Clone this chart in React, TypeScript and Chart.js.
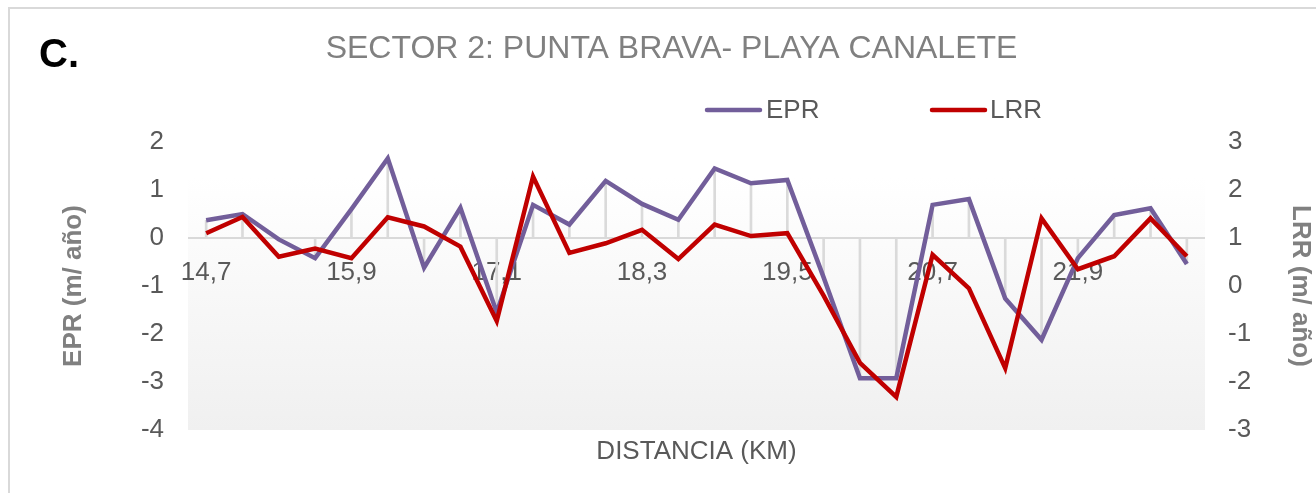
import React, { useEffect, useRef } from 'react';
import { Chart, registerables } from 'chart.js';

Chart.register(...registerables);

// ---- data ----
const categories = [
  '14,7', '15', '15,3', '15,6', '15,9', '16,2', '16,5', '16,8', '17,1', '17,4',
  '17,7', '18', '18,3', '18,6', '18,9', '19,2', '19,5', '19,8', '20,1', '20,4',
  '20,7', '21', '21,3', '21,6', '21,9', '22,2', '22,5', '22,8',
];
const xTickLabels = ['14,7', '15,9', '17,1', '18,3', '19,5', '20,7', '21,9'];

const eprValues = [
  0.37, 0.5, -0.03, -0.42, 0.6, 1.66, -0.62, 0.63, -1.55, 0.69,
  0.28, 1.19, 0.71, 0.38, 1.45, 1.14, 1.21, -0.82, -2.92, -2.92,
  0.69, 0.81, -1.26, -2.12, -0.42, 0.48, 0.62, -0.54,
];
const lrrValues = [
  1.1, 1.44, 0.61, 0.78, 0.58, 1.43, 1.24, 0.82, -0.73, 2.28,
  0.69, 0.89, 1.17, 0.56, 1.28, 1.04, 1.1, -0.2, -1.6, -2.31,
  0.65, -0.05, -1.71, 1.41, 0.35, 0.62, 1.41, 0.62,
];

const eprAxisRange = [-4, 2];
const lrrAxisRange = [-3, 3];

const chartTitle = 'SECTOR 2: PUNTA BRAVA- PLAYA CANALETE';
const panelLetter = 'C.';
const xTitle = 'DISTANCIA (KM)';
const eprTitle = 'EPR (m/ año)';
const lrrTitle = 'LRR (m/ año)';

const EPR_COLOR = '#725e9a';
const LRR_COLOR = '#c00000';
const FONT = "'Liberation Sans', Arial, Helvetica, sans-serif";

const plotBackground = {
  id: 'plotBackground',
  beforeDraw(chart: any) {
    const { ctx, chartArea: a } = chart;
    const g = ctx.createLinearGradient(0, a.top, 0, a.bottom);
    g.addColorStop(0, '#ffffff');
    g.addColorStop(0.12, '#ffffff');
    g.addColorStop(1, '#f0f0f0');
    ctx.save();
    ctx.fillStyle = g;
    ctx.fillRect(a.left, a.top, a.right - a.left, a.bottom - a.top);
    ctx.restore();
  },
};

const legendSpots = [
  { x1: 707, x2: 760, textX: 766, y: 110 },
  { x1: 932, x2: 985, textX: 990, y: 110 },
];

const extras = {
  id: 'extras',
  afterDraw(chart: any) {
    const ctx = chart.ctx;
    ctx.save();
    // panel letter
    ctx.fillStyle = '#000000';
    ctx.font = `bold 40px ${FONT}`;
    ctx.textAlign = 'left';
    ctx.textBaseline = 'alphabetic';
    ctx.fillText(panelLetter, 39, 67);
    // legend
    const lineSets = chart.data.datasets.filter((d: any) => d.type === 'line');
    lineSets.forEach((d: any, i: number) => {
      const s = legendSpots[i];
      ctx.strokeStyle = d.borderColor;
      ctx.lineWidth = d.borderWidth;
      ctx.lineCap = 'round';
      ctx.beginPath();
      ctx.moveTo(s.x1, s.y);
      ctx.lineTo(s.x2, s.y);
      ctx.stroke();
      ctx.fillStyle = '#595959';
      ctx.font = `26px ${FONT}`;
      ctx.textBaseline = 'middle';
      ctx.fillText(d.label, s.textX, s.y + 1);
    });
    ctx.restore();
  },
};

export default function App() {
  const ref = useRef<HTMLCanvasElement>(null);

  useEffect(() => {
    const canvas = ref.current;
    if (!canvas) return;
    const chart = new Chart(canvas, {
      type: 'line',
      data: {
        labels: categories,
        datasets: [
          {
            type: 'line',
            label: 'EPR',
            data: eprValues,
            borderColor: EPR_COLOR,
            backgroundColor: EPR_COLOR,
            borderWidth: 4.5,
            pointRadius: 0,
            tension: 0,
            xAxisID: 'x',
            yAxisID: 'y',
            order: 2,
          },
          {
            type: 'line',
            label: 'LRR',
            data: lrrValues,
            borderColor: LRR_COLOR,
            backgroundColor: LRR_COLOR,
            borderWidth: 4.5,
            pointRadius: 0,
            tension: 0,
            xAxisID: 'x',
            yAxisID: 'y1',
            order: 1,
          },
          {
            type: 'bar',
            label: 'drop',
            data: eprValues,
            backgroundColor: '#dadada',
            borderWidth: 0,
            barThickness: 2,
            xAxisID: 'x',
            yAxisID: 'y',
            order: 5,
          },
        ] as any,
      },
      options: {
        responsive: false,
        animation: false,
        layout: { padding: { left: 27, right: 0, top: 0, bottom: 0 } },
        font: { family: FONT },
        plugins: {
          legend: { display: false },
          tooltip: { enabled: false },
          title: {
            display: true,
            text: chartTitle,
            color: '#808080',
            font: { family: FONT, size: 32, weight: 'normal' },
            padding: { top: 29.5, bottom: 74.1 },
          },
        },
        scales: {
          x: {
            type: 'category',
            position: { y: 0 } as any,
            offset: true,
            grid: { display: false },
            border: { display: false },
            ticks: {
              autoSkip: false,
              maxRotation: 0,
              minRotation: 0,
              padding: 11,
              color: '#595959',
              font: { family: FONT, size: 26 },
              callback: (_v: any, i: number) =>
                xTickLabels.includes(categories[i]) ? categories[i] : '',
            },
          },
          x2: {
            type: 'category',
            position: 'bottom',
            offset: true,
            grid: { display: false },
            border: { display: false },
            ticks: { display: false },
            title: {
              display: true,
              text: xTitle,
              color: '#595959',
              font: { family: FONT, size: 26 },
              padding: { top: 0, bottom: 25.4 },
            },
            afterFit: (s: any) => {
              s.height = 63;
            },
          },
          y: {
            position: 'left',
            min: eprAxisRange[0],
            max: eprAxisRange[1],
            grid: {
              drawTicks: false,
              lineWidth: 2,
              color: (c: any) => (c.tick && c.tick.value === 0 ? '#d9d9d9' : 'rgba(0,0,0,0)'),
            },
            border: { display: false },
            ticks: {
              stepSize: 1,
              padding: 24,
              color: '#595959',
              font: { family: FONT, size: 26 },
            },
            title: {
              display: true,
              text: eprTitle,
              color: '#808080',
              font: { family: FONT, size: 26, weight: 'bold' },
              padding: { top: 31.4, bottom: 0 },
            },
            afterFit: (s: any) => {
              s.width = 161;
            },
          },
          y1: {
            position: 'right',
            min: lrrAxisRange[0],
            max: lrrAxisRange[1],
            grid: { display: false, drawTicks: false },
            border: { display: false },
            ticks: {
              stepSize: 1,
              padding: 23,
              color: '#595959',
              font: { family: FONT, size: 26 },
            },
            title: {
              display: true,
              text: lrrTitle,
              color: '#808080',
              font: { family: FONT, size: 26, weight: 'bold' },
              padding: { top: 0, bottom: 0 },
            },
            afterFit: (s: any) => {
              s.width = 111;
            },
          },
        },
      } as any,
      plugins: [plotBackground, extras],
    });
    return () => chart.destroy();
  }, []);

  return (
    <div
      style={{
        position: 'fixed',
        left: 0,
        top: 0,
        width: 1316,
        height: 493,
        overflow: 'hidden',
        background: '#ffffff',
      }}
    >
      <div
        style={{
          position: 'absolute',
          left: 8,
          top: 7,
          width: 1400,
          height: 600,
          borderTop: '2px solid #d9d9d9',
          borderLeft: '2px solid #d9d9d9',
        }}
      />
      <canvas
        ref={ref}
        width={1316}
        height={493}
        style={{ position: 'absolute', left: 0, top: 0, width: 1316, height: 493 }}
      />
    </div>
  );
}
